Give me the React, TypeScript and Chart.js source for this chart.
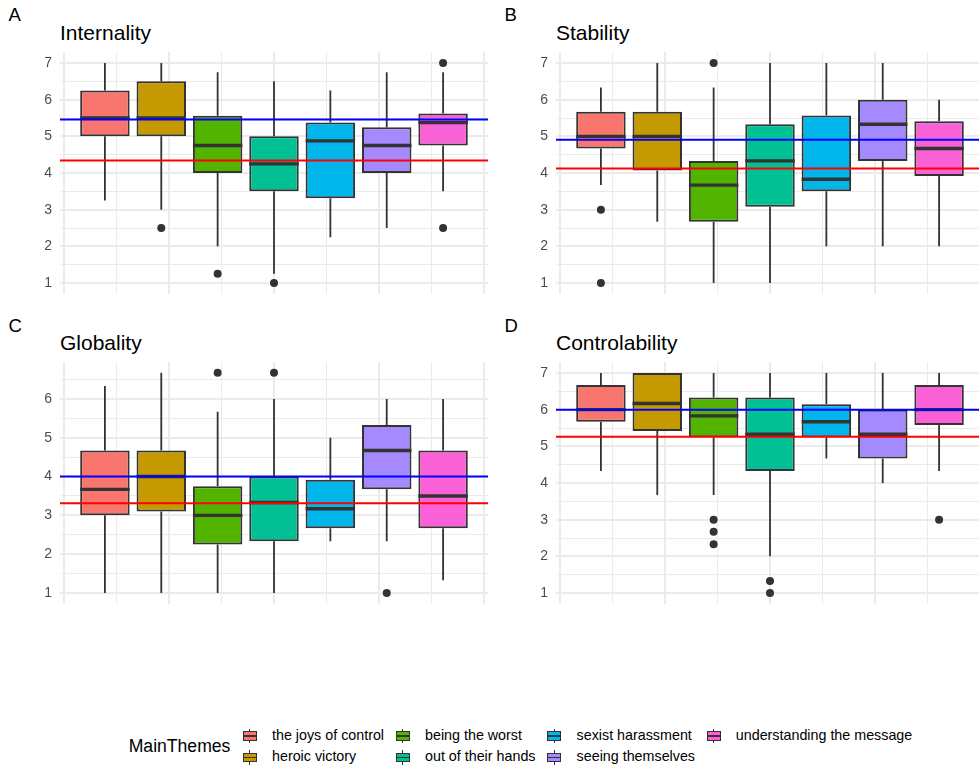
import React, { useEffect, useRef } from 'react';
import { Chart, registerables } from 'chart.js';

Chart.register(...registerables);
Chart.defaults.font.family = "'Liberation Sans', Arial, Helvetica, sans-serif";

// ---------- categories & colours ----------
const themes = [
  'the joys of control',
  'heroic victory',
  'being the worst',
  'out of their hands',
  'sexist harassment',
  'seeing themselves',
  'understanding the message',
];
const themeColors = ['#F8766D', '#C49A00', '#53B400', '#00C094', '#00B6EB', '#A58AFF', '#FB61D7'];

// ---------- Internality ----------
const internalityLow = [3.25, 3.0, 2.0, 1.25, 2.25, 2.5, 3.5];
const internalityQ1 = [5.0, 5.0, 4.0, 3.5, 3.31, 4.0, 4.75];
const internalityMedian = [5.5, 5.5, 4.75, 4.25, 4.875, 4.75, 5.375];
const internalityQ3 = [6.25, 6.5, 5.56, 5.0, 5.375, 5.25, 5.625];
const internalityHigh = [7, 7, 6.75, 6.5, 6.25, 6.75, 6.75];
const internalityOutliers = [[], [2.5], [1.25], [1.0], [], [], [7, 2.5]];
const internalityBlue = 5.46;
const internalityRed = 4.34;

// ---------- Stability ----------
const stabilityLow = [3.67, 2.67, 1.0, 1.0, 2.0, 2.0, 2.0];
const stabilityQ1 = [4.67, 4.07, 2.67, 3.08, 3.5, 4.33, 3.92];
const stabilityMedian = [5.0, 5.0, 3.67, 4.33, 3.83, 5.33, 4.67];
const stabilityQ3 = [5.67, 5.67, 4.33, 5.33, 5.57, 6.0, 5.41];
const stabilityHigh = [6.33, 7, 6.33, 7, 7, 7, 6.0];
const stabilityOutliers = [[3.0, 1.0], [], [7.0], [], [], [], []];
const stabilityBlue = 4.91;
const stabilityRed = 4.12;

// ---------- Globality ----------
const globalityLow = [1, 1, 1, 1, 2.33, 2.33, 1.33];
const globalityQ1 = [3.0, 3.1, 2.25, 2.33, 2.67, 3.67, 2.67];
const globalityMedian = [3.67, 4.0, 3.0, 3.33, 3.17, 4.67, 3.5];
const globalityQ3 = [4.67, 4.67, 3.75, 4.0, 3.92, 5.33, 4.67];
const globalityHigh = [6.33, 6.67, 5.67, 6.0, 5.0, 6.0, 6.0];
const globalityOutliers = [[], [], [6.67], [6.67], [], [1.0], []];
const globalityBlue = 4.0;
const globalityRed = 3.31;

// ---------- Controlability ----------
const controlLow = [4.33, 3.67, 3.67, 2.0, 4.67, 4.0, 4.33];
const controlQ1 = [5.67, 5.42, 5.25, 4.33, 5.25, 4.67, 5.58];
const controlMedian = [6.0, 6.17, 5.83, 5.33, 5.67, 5.33, 6.0];
const controlQ3 = [6.67, 7.0, 6.33, 6.33, 6.15, 6.0, 6.67];
const controlHigh = [7, 7, 7, 7, 7, 7, 7];
const controlOutliers = [[], [], [3.0, 2.67, 2.33], [1.33, 1.0], [], [], [3.0]];
const controlBlue = 6.0;
const controlRed = 5.26;

// ---------- ticks ----------
const yTicks7 = [1, 2, 3, 4, 5, 6, 7];
const yTicks6 = [1, 2, 3, 4, 5, 6];
const yMinorTicks = [1.5, 2.5, 3.5, 4.5, 5.5, 6.5];
const xGridTicks = [-0.4, -0.3, -0.2, -0.1, 0, 0.1, 0.2, 0.3, 0.4];

// dodge layout (ggplot: width 0.75 split among 7 groups)
const DODGE_WIDTH = 0.75;
const X_LIMIT = 0.4068;

const FONT = "'Liberation Sans', Arial, Helvetica, sans-serif";
const PANEL_W = 428;
const PANEL_H = 242;
const AXIS_W = 52;

const boxPartsPlugin = {
  id: 'boxParts',
  beforeDatasetDraw(chart: any, args: any, opts: any) {
    if (args.index !== 0) return;
    const ctx = chart.ctx;
    const y = chart.scales.y;
    const meta = chart.getDatasetMeta(0);
    ctx.save();
    ctx.strokeStyle = '#333333';
    ctx.lineWidth = 1.8;
    meta.data.forEach((el: any, i: number) => {
      ctx.beginPath();
      ctx.moveTo(el.x, y.getPixelForValue(opts.q3[i]));
      ctx.lineTo(el.x, y.getPixelForValue(opts.high[i]));
      ctx.moveTo(el.x, y.getPixelForValue(opts.q1[i]));
      ctx.lineTo(el.x, y.getPixelForValue(opts.low[i]));
      ctx.stroke();
    });
    ctx.restore();
  },
  afterDatasetDraw(chart: any, args: any, opts: any) {
    if (args.index !== 0) return;
    const ctx = chart.ctx;
    const y = chart.scales.y;
    const meta = chart.getDatasetMeta(0);
    ctx.save();
    ctx.strokeStyle = '#333333';
    ctx.lineWidth = 3.4;
    meta.data.forEach((el: any, i: number) => {
      const py = y.getPixelForValue(opts.median[i]);
      ctx.beginPath();
      ctx.moveTo(el.x - el.width / 2, py);
      ctx.lineTo(el.x + el.width / 2, py);
      ctx.stroke();
    });
    ctx.restore();
  },
};

type PanelProps = {
  left: number;
  top: number;
  yMin: number;
  yMax: number;
  yTicks: number[];
  low: number[];
  q1: number[];
  median: number[];
  q3: number[];
  high: number[];
  outliers: number[][];
  blue: number;
  red: number;
};

function BoxPanel(p: PanelProps) {
  const ref = useRef<HTMLCanvasElement>(null);
  useEffect(() => {
    if (!ref.current) return;
    const slot = DODGE_WIDTH / themes.length;
    const xs = themes.map((_, i) => -DODGE_WIDTH / 2 + (i + 0.5) * slot);
    const outlierPts: { x: number; y: number }[] = [];
    p.outliers.forEach((arr, i) => arr.forEach((v) => outlierPts.push({ x: xs[i], y: v })));
    const allYTicks = [...p.yTicks, ...yMinorTicks].sort((a, b) => a - b);
    const chart = new Chart(ref.current, {
      type: 'bar',
      data: {
        datasets: [
          {
            type: 'bar',
            data: xs.map((x, i) => ({ x, y: [p.q1[i], p.q3[i]] })) as any,
            backgroundColor: themeColors,
            borderColor: '#333333',
            borderWidth: 2,
            borderSkipped: false,
            barPercentage: 0.94,
            categoryPercentage: 1,
            order: 3,
          } as any,
          {
            type: 'scatter',
            data: outlierPts,
            pointRadius: 4,
            pointBackgroundColor: '#333333',
            pointBorderWidth: 0,
            order: 2,
          } as any,
          {
            type: 'line',
            data: [
              { x: -X_LIMIT, y: p.blue },
              { x: X_LIMIT, y: p.blue },
            ],
            borderColor: '#0000FF',
            borderWidth: 2,
            pointRadius: 0,
            order: 1,
          } as any,
          {
            type: 'line',
            data: [
              { x: -X_LIMIT, y: p.red },
              { x: X_LIMIT, y: p.red },
            ],
            borderColor: '#FF0000',
            borderWidth: 2,
            pointRadius: 0,
            order: 1,
          } as any,
        ],
      },
      options: {
        responsive: false,
        animation: false,
        devicePixelRatio: 1,
        layout: { padding: 0, autoPadding: false },
        plugins: {
          legend: { display: false },
          tooltip: { enabled: false },
          boxParts: { low: p.low, q1: p.q1, median: p.median, q3: p.q3, high: p.high },
        } as any,
        scales: {
          x: {
            type: 'linear',
            min: -X_LIMIT,
            max: X_LIMIT,
            offset: false,
            border: { display: false },
            grid: {
              offset: false,
              drawTicks: false,
              color: '#EBEBEB',
              lineWidth: (ctx: any) => {
                if (!ctx.tick) return 0;
                const v = ctx.tick.value * 5;
                return Math.abs(v - Math.round(v)) < 1e-6 ? 2 : 1;
              },
            },
            ticks: { display: false },
            afterBuildTicks: (scale: any) => {
              scale.ticks = xGridTicks.map((v) => ({ value: v }));
            },
            afterFit: (scale: any) => {
              scale.height = 0;
              scale.paddingLeft = 0;
              scale.paddingRight = 0;
            },
          },
          y: {
            type: 'linear',
            min: p.yMin,
            max: p.yMax,
            beginAtZero: false,
            border: { display: false },
            grid: {
              drawTicks: false,
              color: '#EBEBEB',
              lineWidth: (ctx: any) => {
                if (!ctx.tick) return 0;
                return Number.isInteger(ctx.tick.value) ? 2 : 1;
              },
            },
            ticks: {
              autoSkip: false,
              padding: 8,
              color: '#4D4D4D',
              font: { size: 14, family: FONT },
              callback: (v: any) => (Number.isInteger(v) ? String(v) : ''),
            },
            afterBuildTicks: (scale: any) => {
              scale.ticks = allYTicks.map((v) => ({ value: v }));
            },
            afterFit: (scale: any) => {
              scale.width = AXIS_W;
              scale.paddingTop = 0;
              scale.paddingBottom = 0;
            },
          },
        },
      } as any,
      plugins: [boxPartsPlugin],
    });
    return () => chart.destroy();
  }, []);
  return (
    <canvas
      ref={ref}
      width={PANEL_W + AXIS_W}
      height={PANEL_H}
      style={{
        position: 'absolute',
        left: p.left - AXIS_W,
        top: p.top,
        width: PANEL_W + AXIS_W,
        height: PANEL_H,
      }}
    />
  );
}

function Text({ x, y, size, color, children }: any) {
  return (
    <div
      style={{
        position: 'absolute',
        left: x,
        top: y,
        fontSize: size,
        lineHeight: `${size}px`,
        fontFamily: FONT,
        color,
        whiteSpace: 'nowrap',
      }}
    >
      {children}
    </div>
  );
}

function LegendKey({ cx, cy, color }: { cx: number; cy: number; color: string }) {
  return (
    <>
      <div style={{ position: 'absolute', left: cx - 0.75, top: cy - 7.3, width: 1.5, height: 14.6, background: '#333333' }} />
      <div
        style={{
          position: 'absolute',
          left: cx - 7,
          top: cy - 4.7,
          width: 14,
          height: 9.4,
          background: color,
          border: '1.5px solid #333333',
          boxSizing: 'border-box',
        }}
      />
      <div style={{ position: 'absolute', left: cx - 7, top: cy - 0.85, width: 14, height: 1.7, background: '#333333' }} />
    </>
  );
}

const legendKeyX = [249.7, 402.7, 554.3, 713.5];
const legendRowY = [736, 757.5];

export default function App() {
  const panels: (PanelProps & { title: string; tag: string })[] = [
    {
      tag: 'A', title: 'Internality', left: 60, top: 52, yMin: 0.7, yMax: 7.3, yTicks: yTicks7,
      low: internalityLow, q1: internalityQ1, median: internalityMedian, q3: internalityQ3, high: internalityHigh,
      outliers: internalityOutliers, blue: internalityBlue, red: internalityRed,
    },
    {
      tag: 'B', title: 'Stability', left: 556, top: 52, yMin: 0.7, yMax: 7.3, yTicks: yTicks7,
      low: stabilityLow, q1: stabilityQ1, median: stabilityMedian, q3: stabilityQ3, high: stabilityHigh,
      outliers: stabilityOutliers, blue: stabilityBlue, red: stabilityRed,
    },
    {
      tag: 'C', title: 'Globality', left: 60, top: 362, yMin: 0.7167, yMax: 6.95, yTicks: yTicks6,
      low: globalityLow, q1: globalityQ1, median: globalityMedian, q3: globalityQ3, high: globalityHigh,
      outliers: globalityOutliers, blue: globalityBlue, red: globalityRed,
    },
    {
      tag: 'D', title: 'Controlability', left: 556, top: 362, yMin: 0.7, yMax: 7.3, yTicks: yTicks7,
      low: controlLow, q1: controlQ1, median: controlMedian, q3: controlQ3, high: controlHigh,
      outliers: controlOutliers, blue: controlBlue, red: controlRed,
    },
  ];

  return (
    <div
      style={{
        position: 'absolute',
        left: 0,
        top: 0,
        width: 979,
        height: 770,
        overflow: 'hidden',
        background: '#FFFFFF',
        fontFamily: FONT,
      }}
    >
      {panels.map((p, i) => {
        const right = i % 2 === 1;
        const bottom = i >= 2;
        return (
          <React.Fragment key={p.tag}>
            <Text x={right ? 504.5 : 8.5} y={bottom ? 316.5 : 6} size={18.5} color="#000000">
              {p.tag}
            </Text>
            <Text x={p.left} y={bottom ? 332.3 : 21.5} size={21} color="#000000">
              {p.title}
            </Text>
            <BoxPanel {...p} />
          </React.Fragment>
        );
      })}

      <Text x={128.7} y={737.8} size={17.6} color="#000000">
        MainThemes
      </Text>
      {themes.map((t, i) => {
        const col = Math.floor(i / 2);
        const row = i % 2;
        const cx = legendKeyX[col];
        const cy = legendRowY[row];
        return (
          <React.Fragment key={t}>
            <LegendKey cx={cx} cy={cy} color={themeColors[i]} />
            <Text x={cx + 22.3} y={cy - 8.3} size={14.3} color="#000000">
              {t}
            </Text>
          </React.Fragment>
        );
      })}
    </div>
  );
}
